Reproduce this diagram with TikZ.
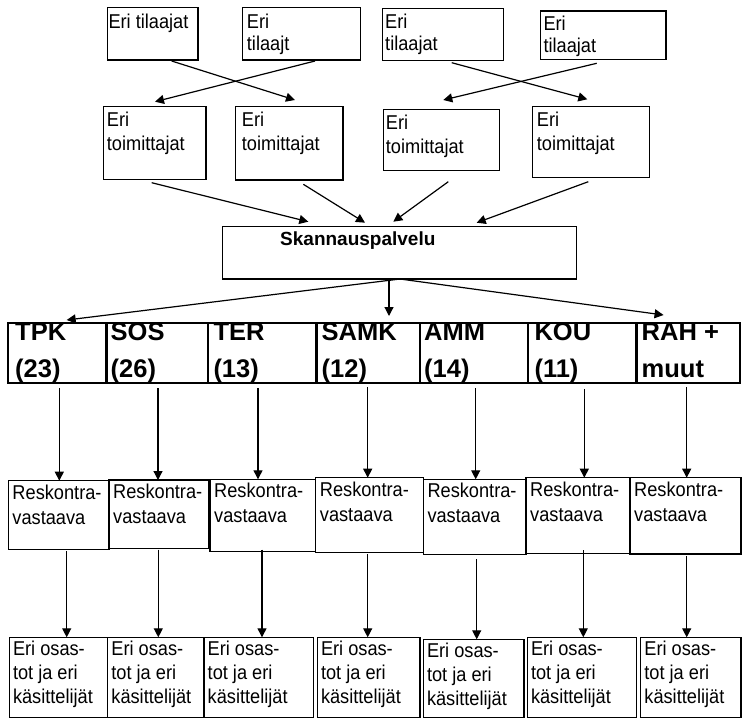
\documentclass[tikz,border=0pt]{standalone}
\usepackage{fontspec}
\setmainfont{Liberation Sans}
% slightly condensed face for the box texts
\newfontfamily\bodyfont{Liberation Sans}[FakeStretch=0.91]
\usetikzlibrary{arrows.meta,calc}
% box with corners (x1,y1) and (x2,y2), y measured downwards
\newcommand\mkbox[6][box]{\node[#1, minimum width={#5pt-#3pt}, minimum height={#6pt-#4pt}] (#2) at (#3,#4) {};}
\begin{document}
\begin{tikzpicture}[x=1pt,y=-1pt,
  box/.style={draw, line width=1.3pt, rectangle, inner sep=0pt, outer sep=0pt, anchor=north west},
  cell/.style={draw, line width=2.2pt, rectangle, inner sep=0pt, outer sep=0pt, anchor=north west},
  % text nodes are placed by the baseline of their last line
  txt/.style={anchor=base west, inner sep=0pt, align=left, font=\bodyfont\fontsize{20}{24}\selectfont},
  toptxt/.style={txt, font=\bodyfont\fontsize{20}{22.5}\selectfont},
  restxt/.style={txt, font=\bodyfont\fontsize{20}{25}\selectfont},
  head/.style={anchor=base west, inner sep=0pt, align=left, font=\bfseries\fontsize{25.5}{36.3}\selectfont},
  arr/.style={-{Triangle[length=9pt,width=9pt]}, line width=1.2pt},
]
\useasboundingbox (0,0) rectangle (743,718);

% ---- customers ----
\mkbox{b1}{107.3}{7.3}{198}{60}
\mkbox{b2}{242.7}{7.3}{360.7}{60}
\mkbox{b3}{382.7}{8.3}{503.3}{60.7}
\mkbox{b4}{540.7}{11}{666}{59.3}
\node[toptxt] (b1t) at ($(b1.north west)+(1,21)$) {Eri tilaajat};
\node[toptxt] (b2t) at ($(b2.north west)+(4,43.5)$) {Eri\\tilaajt};
\node[toptxt] (b3t) at ($(b3.north west)+(2.3,42.5)$) {Eri\\tilaajat};
\node[toptxt] (b4t) at ($(b4.north west)+(2.6,41.5)$) {Eri\\tilaajat};

% ---- suppliers ----
\mkbox{b5}{103.3}{106.7}{206}{179.3}
\mkbox{b6}{235.7}{106.7}{343}{180}
\mkbox{b7}{383.3}{109.3}{499.3}{170.7}
\mkbox{b8}{532.7}{106.7}{649.3}{177.3}
\node[txt] (b5t) at ($(b5.north west)+(3.4,43.3)$) {Eri\\toimittajat};
\node[txt] (b6t) at ($(b6.north west)+(6,43.3)$) {Eri\\toimittajat};
\node[txt] (b7t) at ($(b7.north west)+(2.4,44.3)$) {Eri\\toimittajat};
\node[txt] (b8t) at ($(b8.north west)+(4,43.5)$) {Eri\\toimittajat};

% ---- scanning service ----
\mkbox{sk}{222.7}{226.7}{576.7}{279}
\node[anchor=base west, inner sep=0pt, font=\bfseries\fontsize{19}{23}\selectfont] (skt)
  at ($(sk.north west)+(57.3,18.3)$) {Skannauspalvelu};

% crossing arrows customers -> suppliers
\draw[arr] ($(b1.south)+(19,1)$) -- ($(b6.north)+(5.65,-6.7)$);
\draw[arr] ($(b2.south)+(13.3,1)$) -- ($(b5.north)+(0.35,-5)$);
\draw[arr] ($(b3.south)+(8.7,2)$) -- ($(b8.north)+(-3.7,-7.4)$);
\draw[arr] ($(b4.south)+(-6.65,4)$) -- ($(b7.north)+(2,-9.3)$);
% suppliers -> scanning
\draw[arr] ($(b5.south)+(-3,3.4)$) -- ($(sk.north)+(-91.4,-5)$);
\draw[arr] ($(b6.south)+(14,4.3)$) -- ($(sk.north)+(-34.7,-4)$);
\draw[arr] ($(b7.south)+(7,11)$) -- ($(sk.north)+(-6.4,-5)$);
\draw[arr] ($(b8.south)+(-2.7,4.4)$) -- ($(sk.north)+(77,-4)$);

% ---- units table ----
\mkbox[cell]{t1}{8.3}{323.3}{106.5}{383.3}
\mkbox[cell]{t2}{106.5}{323.3}{208.3}{383.3}
\mkbox[cell]{t3}{208.3}{323.3}{316.5}{383.3}
\mkbox[cell]{t4}{316.5}{323.3}{420}{383.3}
\mkbox[cell]{t5}{420}{323.3}{528.3}{383.3}
\mkbox[cell]{t6}{528.3}{323.3}{636.5}{383.3}
\mkbox[cell]{t7}{636.5}{323.3}{740}{383.3}
\node[head] (t1t) at ($(t1.north west)+(6.7,53.7)$) {TPK\\(23)};
\node[head] (t2t) at ($(t2.north west)+(4,53.7)$) {SOS\\(26)};
\node[head] (t3t) at ($(t3.north west)+(5,53.7)$) {TER\\(13)};
\node[head] (t4t) at ($(t4.north west)+(5,53.7)$) {SAMK\\(12)};
\node[head] (t5t) at ($(t5.north west)+(4,53.7)$) {AMM\\(14)};
\node[head] (t6t) at ($(t6.north west)+(6,53.7)$) {KOU\\(11)};
\node[head] (t7t) at ($(t7.north west)+(5,53.7)$) {RAH +\\muut};

% scanning -> units
\coordinate (skb) at ($(sk.south)+(0.3,0)$);
\draw[arr] (skb) -- ($(t1.north)+(9.3,-3.3)$);
\draw[arr] ($(sk.south)+(-10.7,0)$) -- ($(t4.north)+(20.75,-7.3)$);
\draw[arr] (skb) -- ($(t7.north)+(-24.7,-8.3)$);

% ---- ledger officers ----
\mkbox{r1}{8.3}{480.7}{109}{549.3}
\mkbox{r2}{109}{480}{208.3}{548.5}
\mkbox{r3}{210}{479.3}{315.7}{551.7}
\mkbox{r4}{315.7}{477.7}{423.3}{552.7}
\mkbox{r5}{423.3}{479.3}{526}{554.3}
\mkbox{r6}{526}{477.7}{630}{553.3}
\mkbox{r7}{630}{477.7}{741}{554}
\foreach \i in {1,...,7}{
  \node[restxt] (r\i t) at ($(r\i.north west)+(4,43.5)$) {Reskontra-\\vastaava};
}

% units -> ledger officers
\foreach \i/\dx/\dy in {1/1.9/4.5, 2/0.6/5, 3/-4.4/4.5, 4/-0.55/3.5, 5/1.55/5, 6/1.9/6, 7/-1.55/3.5}{
  \coordinate (ta\i) at ($(t\i.south)+(\dx,\dy)$);
  \draw[arr] (ta\i) -- (ta\i |- r\i.north);
}

% ---- departments and handlers ----
\mkbox{e1}{9.3}{637.3}{107.7}{717.5}
\mkbox{e2}{107.7}{637.3}{204}{717.5}
\mkbox{e3}{204}{637.3}{313.3}{717.5}
\mkbox{e4}{317.3}{637.3}{420}{717.5}
\mkbox{e5}{423.3}{639.3}{524}{717.5}
\mkbox{e6}{527.3}{637.3}{636.7}{717.5}
\mkbox{e7}{640.7}{637.3}{741}{717.5}
\foreach \i in {1,...,7}{
  \node[txt] (e\i t) at ($(e\i.north west)+(3.5,66)$) {Eri osas-\\tot ja eri\\käsittelijät};
}

% ledger officers -> departments
\foreach \i/\dx/\dy in {1/8.05/2, 2/-0.35/1, 3/-0.85/-2, 4/-1.8/1.6, 5/2.05/5, 6/5.3/-3.3, 7/1.2/2}{
  \coordinate (ra\i) at ($(r\i.south)+(\dx,\dy)$);
  \draw[arr] (ra\i) -- (ra\i |- e\i.north);
}
\end{tikzpicture}
\end{document}
